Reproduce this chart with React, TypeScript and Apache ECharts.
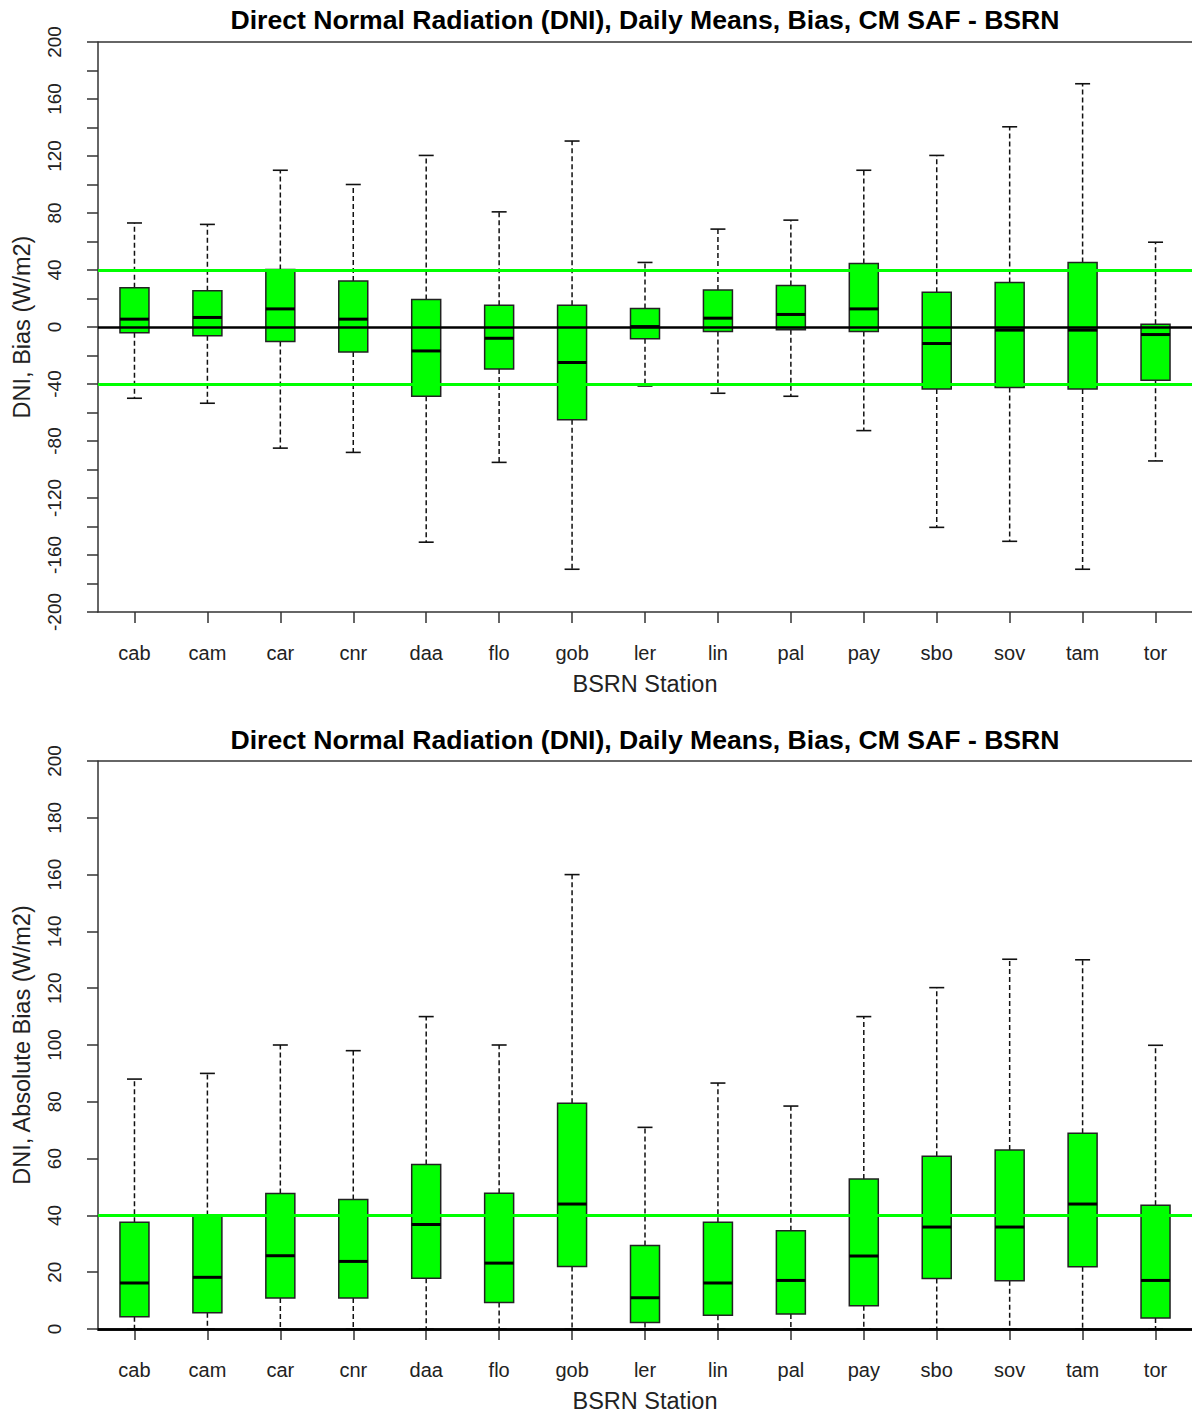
import React, { useEffect, useRef } from "react";
import * as echarts from "echarts";

const stations = ["cab", "cam", "car", "cnr", "daa", "flo", "gob", "ler", "lin", "pal", "pay", "sbo", "sov", "tam", "tor"];

const titleText = "Direct Normal Radiation (DNI), Daily Means, Bias, CM SAF - BSRN";
const xName = "BSRN Station";
const biasName = "DNI, Bias (W/m2)";
const absName = "DNI, Absolute Bias (W/m2)";

// Panel 1: bias
const biasMin = [-50, -53.5, -85, -88, -151, -95, -170, -41.4, -46.5, -48.6, -72.7, -140.6, -150.4, -170, -94];
const biasQ1 = [-4, -6.2, -10.2, -17.5, -48.6, -29.4, -65, -8.3, -3.2, -2, -3.2, -43.5, -42.5, -43.5, -37.4];
const biasMedian = [5.5, 6.7, 12.7, 5.5, -16.8, -7.9, -24.9, 0.3, 6.2, 8.8, 12.7, -11.6, -2.2, -2.2, -5.3];
const biasQ3 = [27.5, 25.4, 40.4, 32.2, 19.3, 15.3, 15.3, 13, 26, 29.1, 44.6, 24.4, 31.2, 45.3, 2];
const biasMax = [73, 72, 110, 100, 120.4, 80.8, 130.5, 45.3, 68.7, 75, 110, 120.4, 140.5, 170.7, 59.5];

// Panel 2: absolute bias
const absMin = [0, 0, 0, 0, 0, 0, 0, 0, 0, 0, 0, 0, 0, 0, 0];
const absQ1 = [4.3, 5.7, 10.9, 10.9, 17.9, 9.3, 22, 2.3, 4.8, 5.3, 8.2, 17.8, 17, 21.9, 3.9];
const absMedian = [16.2, 18.2, 25.8, 23.8, 36.8, 23.2, 44, 11, 16.2, 17.1, 25.7, 35.9, 35.9, 44, 17.1];
const absQ3 = [37.6, 40, 47.7, 45.6, 57.9, 47.8, 79.5, 29.4, 37.6, 34.6, 52.8, 60.8, 63, 68.9, 43.6];
const absMax = [88, 90, 100, 98, 110, 100, 160, 71, 86.6, 78.5, 110, 120.2, 130.2, 130, 99.9];

const biasRefLines = [40, -40];
const absRefLines = [40];

const FONT = "'Liberation Sans', Arial, Helvetica, sans-serif";

function buildRows(mn: number[], q1: number[], md: number[], q3: number[], mx: number[]) {
  return stations.map((_, i) => [i, mn[i], q1[i], md[i], q3[i], mx[i]]);
}

const BOX_HALF = 14.5;
const CAP_HALF = 7.5;

function renderBox(params: any, api: any) {
  const x = api.value(0);
  const pMin = api.coord([x, api.value(1)]);
  const pQ1 = api.coord([x, api.value(2)]);
  const pMed = api.coord([x, api.value(3)]);
  const pQ3 = api.coord([x, api.value(4)]);
  const pMax = api.coord([x, api.value(5)]);
  const cx = pMed[0];
  const dashed = { stroke: "#111", lineWidth: 1.5, lineDash: [5, 3] };
  const solid = { stroke: "#111", lineWidth: 1.6 };
  return {
    type: "group",
    children: [
      { type: "line", shape: { x1: cx, y1: pQ3[1], x2: cx, y2: pMax[1] }, style: dashed },
      { type: "line", shape: { x1: cx, y1: pQ1[1], x2: cx, y2: pMin[1] }, style: dashed },
      { type: "line", shape: { x1: cx - CAP_HALF, y1: pMax[1], x2: cx + CAP_HALF, y2: pMax[1] }, style: solid },
      { type: "line", shape: { x1: cx - CAP_HALF, y1: pMin[1], x2: cx + CAP_HALF, y2: pMin[1] }, style: solid },
      {
        type: "rect",
        shape: { x: cx - BOX_HALF, y: pQ3[1], width: BOX_HALF * 2, height: pQ1[1] - pQ3[1] },
        style: { fill: "#00ff00", stroke: "#222", lineWidth: 1.5 },
      },
      { type: "line", shape: { x1: cx - BOX_HALF, y1: pMed[1], x2: cx + BOX_HALF, y2: pMed[1] }, style: { stroke: "#000", lineWidth: 3 } },
    ],
  };
}

function xAxisFor(gridIndex: number, axisLineStyle: any) {
  return {
    type: "category",
    gridIndex,
    data: stations,
    boundaryGap: true,
    name: xName,
    nameLocation: "middle",
    nameGap: 60,
    nameTextStyle: { fontFamily: FONT, fontSize: 23.5, color: "#222" },
    axisLine: { show: true, onZero: false, lineStyle: axisLineStyle },
    axisTick: { show: true, alignWithLabel: true, length: 11, lineStyle: { color: "#333", width: 1.5 } },
    axisLabel: { margin: 31, fontFamily: FONT, fontSize: 20, color: "#222", interval: 0 },
    splitLine: { show: false },
  };
}

function yAxisFor(gridIndex: number, min: number, max: number, labelStep: number, name: string) {
  return {
    type: "value",
    gridIndex,
    min,
    max,
    interval: 20,
    name,
    nameLocation: "middle",
    nameGap: 64,
    nameRotate: 90,
    nameTextStyle: { fontFamily: FONT, fontSize: 23.5, color: "#222" },
    axisLine: { show: true, onZero: false, lineStyle: { color: "#333", width: 1.5 } },
    axisTick: { show: true, length: 11, lineStyle: { color: "#333", width: 1.5 } },
    axisLabel: {
      rotate: 90,
      margin: 34,
      fontFamily: FONT,
      fontSize: 19,
      color: "#222",
      showMinLabel: true,
      showMaxLabel: true,
      formatter: (v: number) => ((Math.round(v - min) % labelStep === 0) ? String(Math.round(v)) : ""),
    },
    splitLine: { show: false },
  };
}

function markLinesFor(refs: number[], zeroWidth: number, top: number) {
  const data: any[] = [];
  refs.forEach((r) => data.push({ yAxis: r, lineStyle: { color: "#00ff00", width: 3, type: "solid" } }));
  data.push({ yAxis: 0, lineStyle: { color: "#000", width: zeroWidth, type: "solid" } });
  data.push({ yAxis: top, lineStyle: { color: "#333", width: 1.5, type: "solid" } });
  return {
    silent: true,
    symbol: ["none", "none"],
    label: { show: false },
    z: 5,
    data,
  };
}

export default function App() {
  const ref = useRef<HTMLDivElement>(null);
  useEffect(() => {
    if (!ref.current) return;
    const chart = echarts.init(ref.current, null, { renderer: "svg" });
    const titleStyle = { text: titleText, fontFamily: FONT, fontWeight: "bold", fontSize: 26.6, fill: "#000", align: "center", verticalAlign: "middle" };
    const option: any = {
      animation: false,
      backgroundColor: "#ffffff",
      graphic: [
        { type: "text", x: 645, y: 20, style: titleStyle },
        { type: "text", x: 645, y: 739.5, style: titleStyle },
      ],
      grid: [
        { left: 98, right: 0, top: 42, height: 570, containLabel: false, outerBoundsMode: "none" },
        { left: 98, right: 0, top: 761, height: 568, containLabel: false, outerBoundsMode: "none" },
      ],
      xAxis: [xAxisFor(0, { color: "#333", width: 1.5 }), xAxisFor(1, { color: "#000", width: 2.5 })],
      yAxis: [yAxisFor(0, -200, 200, 40, biasName), yAxisFor(1, 0, 200, 20, absName)],
      series: [
        {
          type: "custom",
          name: "bias",
          xAxisIndex: 0,
          yAxisIndex: 0,
          renderItem: renderBox,
          encode: { x: 0, y: [1, 2, 3, 4, 5] },
          data: buildRows(biasMin, biasQ1, biasMedian, biasQ3, biasMax),
          z: 2,
          markLine: markLinesFor(biasRefLines, 2.5, 200),
        },
        {
          type: "custom",
          name: "absbias",
          xAxisIndex: 1,
          yAxisIndex: 1,
          renderItem: renderBox,
          encode: { x: 0, y: [1, 2, 3, 4, 5] },
          data: buildRows(absMin, absQ1, absMedian, absQ3, absMax),
          z: 2,
          markLine: markLinesFor(absRefLines, 2.5, 200),
        },
      ],
    };
    chart.setOption(option);
    return () => chart.dispose();
  }, []);
  return <div ref={ref} style={{ position: "absolute", left: 0, top: 0, width: 1192, height: 1414 }} />;
}
